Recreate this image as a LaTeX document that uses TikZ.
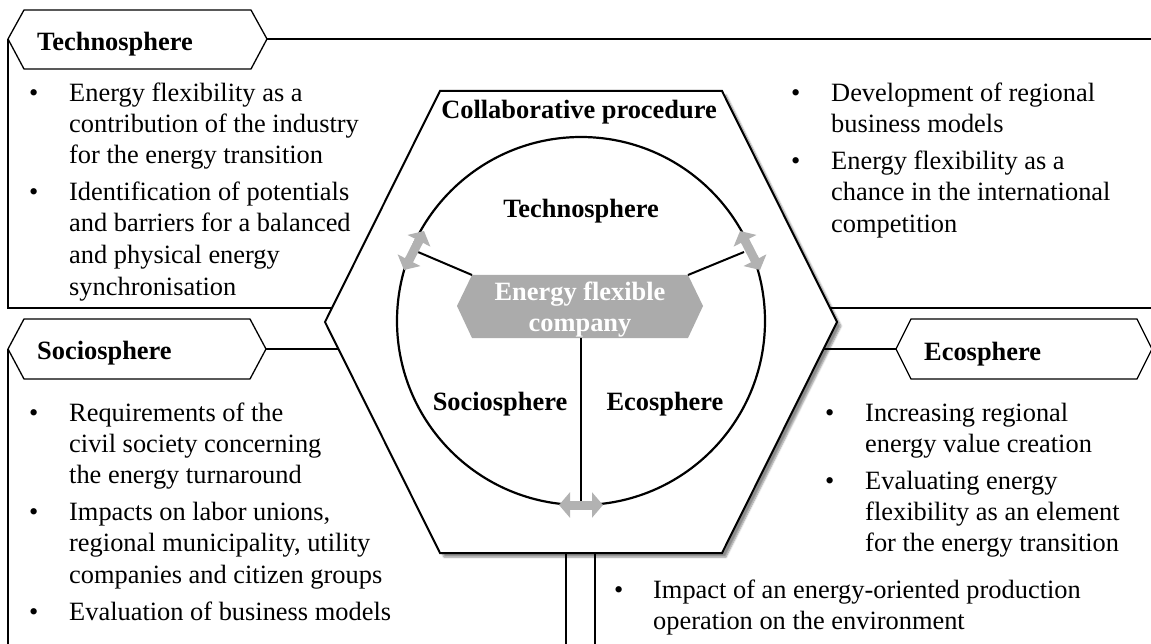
\documentclass[tikz,border=0pt]{standalone}
\usepackage{fontspec}
\setmainfont{Liberation Serif}
\usetikzlibrary{arrows.meta,shadows.blur}
\begin{document}
\begin{tikzpicture}[x=1pt,y=-1pt,
  txt/.style={anchor=base west,inner sep=0pt,font=\fontsize{26.4}{31}\selectfont},
  lbl/.style={anchor=base,inner sep=0pt,font=\fontsize{26.4}{31}\selectfont\bfseries},
  tablbl/.style={anchor=base west,inner sep=0pt,font=\fontsize{26.4}{31}\selectfont\bfseries},
  framel/.style={line width=1.3pt},
  tabshape/.style={line width=1.3pt,fill=white},
  bigline/.style={line width=2pt},
  dblarrow/.style={line width=9pt,color=black!30,{Triangle[width=25pt,length=11pt]}-{Triangle[width=25pt,length=11pt]}},
  spoke/.style={line width=2pt}]
\useasboundingbox (0,0) rectangle (1151,644);
% coordinates
\coordinate (hA) at (440,91); \coordinate (hB) at (722,91); \coordinate (hC) at (837,322);
\coordinate (hD) at (722,553); \coordinate (hE) at (440,553); \coordinate (hF) at (325,322);
\coordinate (fTL) at (8,39); \coordinate (fTR) at (1160,39);
\coordinate (fBL) at (8,308); \coordinate (fBR) at (1160,308);
\coordinate (fHL) at (333,308); \coordinate (fHR) at (830,308);
\coordinate (sL) at (8,349); \coordinate (sBot) at (8,650);
\coordinate (sHL) at (338,349); \coordinate (eHR) at (823,349);
\coordinate (v1t) at (566,553); \coordinate (v1b) at (566,650);
\coordinate (v2t) at (595,553); \coordinate (v2b) at (595,650);
% frames
\draw[framel] (fTL) -- (fBL) -- (fHL);
\draw[framel] (fHR) -- (fBR);
\draw[framel] (267,39) -- (fTR);
\draw[framel] (sL) -- (sBot);
\draw[framel] (266,349) -- (sHL);
\draw[framel] (eHR) -- (896,349);
\draw[framel] (v1t) -- (v1b);
\draw[framel] (v2t) -- (v2b);
% tabs
\draw[tabshape] (8,39) -- (24,10) -- (251,10) -- (267,39) -- (251,69) -- (24,69) -- cycle;
\node[tablbl] (tabT) at (37,51) {Technosphere};
\draw[tabshape] (8,349) -- (24,319) -- (250,319) -- (266,349) -- (250,379) -- (24,379) -- cycle;
\node[tablbl] (tabS) at (37,359) {Sociosphere};
\draw[tabshape] (896,349) -- (911,319) -- (1137,319) -- (1152,349) -- (1137,379) -- (911,379) -- cycle;
\node[tablbl] (tabE) at (924,360) {Ecosphere};
% central hexagon
\draw[bigline,fill=white,blur shadow={shadow xshift=4pt,shadow yshift=-4pt,shadow blur steps=6,shadow opacity=45}]
  (hA) -- (hB) -- (hC) -- (hD) -- (hE) -- (hF) -- cycle;
\node[lbl] (collab) at (579,119) {Collaborative procedure};
% circle
\node[circle,draw,line width=2.2pt,minimum size=368pt,inner sep=0pt] (circ) at (581,321) {};
\node[lbl] (cT) at (581,218) {Technosphere};
\node[lbl] (cS) at (500,410) {Sociosphere};
\node[lbl] (cE) at (665,410) {Ecosphere};
% company hexagon
\coordinate (gA) at (472,275); \coordinate (gB) at (688,275); \coordinate (gC) at (703,306);
\coordinate (gD) at (688,338); \coordinate (gE) at (472,338); \coordinate (gF) at (457,306);
\fill[black!33] (gA) -- (gB) -- (gC) -- (gD) -- (gE) -- (gF) -- cycle;
\node[lbl,text=white] (comp1) at (580,301) {Energy flexible};
\node[lbl,text=white] (comp2) at (580,331) {company};
% spokes
\coordinate (aL) at (418,252); \coordinate (aR) at (744,252); \coordinate (aB) at (581,505);
\coordinate (gBot) at (581,338);
\draw[spoke] (gA) -- (aL);
\draw[spoke] (gB) -- (aR);
\draw[spoke] (gBot) -- (aB);
% double arrows
\coordinate (aL1) at (424,231); \coordinate (aL2) at (404,270);
\coordinate (aR1) at (740,231); \coordinate (aR2) at (760,270);
\coordinate (aB1) at (559,505); \coordinate (aB2) at (603,505);
\draw[dblarrow] (aL1) -- (aL2);
\draw[dblarrow] (aR1) -- (aR2);
\draw[dblarrow] (aB1) -- (aB2);
% texts top-left
\node[txt] (b1) at (29,102) {•};
\node[txt] (t1) at (69,102) {Energy flexibility as a};
\node[txt] (t2) at (69,133) {contribution of the industry};
\node[txt] (t3) at (69,164) {for the energy transition};
\node[txt] (b2) at (29,201) {•};
\node[txt] (t4) at (69,201) {Identification of potentials};
\node[txt] (t5) at (69,232) {and barriers for a balanced};
\node[txt] (t6) at (69,264) {and physical energy};
\node[txt] (t7) at (69,296) {synchronisation};
% top-right
\node[txt] (b3) at (791,102) {•};
\node[txt] (r1) at (831,102) {Development of regional};
\node[txt] (r2) at (831,133) {business models};
\node[txt] (b4) at (791,170) {•};
\node[txt] (r3) at (831,170) {Energy flexibility as a};
\node[txt] (r4) at (831,201) {chance in the international};
\node[txt] (r5) at (831,233) {competition};
% socio
\node[txt] (b5) at (29,421) {•};
\node[txt] (s1) at (69,421) {Requirements of the};
\node[txt] (s2) at (69,452) {civil society concerning};
\node[txt] (s3) at (69,483) {the energy turnaround};
\node[txt] (b6) at (29,520) {•};
\node[txt] (s4) at (69,520) {Impacts on labor unions,};
\node[txt] (s5) at (69,551) {regional municipality, utility};
\node[txt] (s6) at (69,583) {companies and citizen groups};
\node[txt] (b7) at (29,620) {•};
\node[txt] (s7) at (69,620) {Evaluation of business models};
% eco
\node[txt] (b8) at (825,421) {•};
\node[txt] (e1) at (865,421) {Increasing regional};
\node[txt] (e2) at (865,452) {energy value creation};
\node[txt] (b9) at (825,489) {•};
\node[txt] (e3) at (865,489) {Evaluating energy};
\node[txt] (e4) at (865,520) {flexibility as an element};
\node[txt] (e5) at (865,551) {for the energy transition};
% bottom
\node[txt] (b10) at (614,598) {•};
\node[txt] (u1) at (653,598) {Impact of an energy-oriented production};
\node[txt] (u2) at (653,629) {operation on the environment};
\end{tikzpicture}
\end{document}
